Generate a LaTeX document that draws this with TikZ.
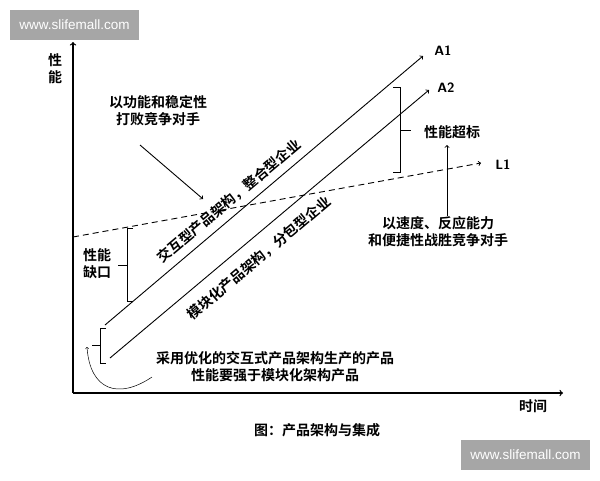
\documentclass[tikz,border=0pt]{standalone}
\usepackage{fontspec}
\setmainfont{Liberation Sans}
\newfontfamily\cjk{Noto Sans CJK SC}[BoldFont={Noto Sans CJK SC Bold}]
\usetikzlibrary{positioning}

\tikzset{
    lbl/.style={font=\cjk\bfseries\fontsize{14}{17}\selectfont, inner sep=1pt, align=center},
    tag/.style={font=\sffamily\bfseries\fontsize{13.5}{15}\selectfont, inner sep=1pt},
    wmark/.style={fill=black!35, text=white, minimum width=129pt, minimum height=30pt,
        font=\fontsize{13.5}{15}\selectfont},
    axis/.style={->, line width=1.3pt},
    trend/.style={->, line width=0.9pt},
    brace/.style={line width=0.9pt}
}

\begin{document}
\begin{tikzpicture}[x=1pt, y=-1pt]
    \useasboundingbox (0,0) rectangle (600,480);

    % Watermarks
    \node[wmark] (wm1) at (74.5,25) {www.slifemall.com};
    \node[wmark] (wm2) at (525.5,455) {www.slifemall.com};

    % Axes
    \coordinate (o) at (73,393);
    \coordinate (ytop) at (73,42);
    \coordinate (xend) at (563,393);
    \draw[axis] (o) -- (ytop);
    \draw[axis] (o) -- (xend);
    \node[lbl, align=center] (yl) at (55,69) {性\\能};
    \node[lbl] (xl) at (533,406) {时间};

    % Trend lines
    \coordinate (a1s) at (105,325);
    \coordinate (a1e) at (423,56);
    \coordinate (a2s) at (110,358);
    \coordinate (a2e) at (429,90);
    \coordinate (l1s) at (73,237);
    \coordinate (l1e) at (481,163);
    \draw[trend] (a1s) -- (a1e);
    \draw[trend] (a2s) -- (a2e);
    \draw[trend, dashed, dash pattern=on 6pt off 4pt] (l1s) -- (l1e);
    \node[tag] (A1) at (443,51) {A1};
    \node[tag] (A2) at (446,88) {A2};
    \node[tag] (L1) at (503,165) {L1};

    % Labels along the lines
    \node[lbl, rotate=40.2] (inter) at (229,201) {交互型产品架构，整合型企业};
    \node[lbl, rotate=40.2] (modul) at (259,258) {模块化产品架构，分包型企业};

    % Bracket: performance gap
    \draw[brace] (133,228) -- (127,228) -- (127,301) -- (133,301);
    \draw[brace] (127,265) -- (118,265);
    \node[lbl] (gap) at (97,264) {性能\\缺口};

    % Bracket: performance surplus
    \draw[brace] (393,87) -- (400,87) -- (400,172) -- (393,172);
    \draw[brace] (400,130) -- (411,130);
    \node[lbl] (over) at (452,132) {性能超标};

    % Bracket at the start
    \draw[brace] (106,328) -- (100,328) -- (100,363) -- (106,363);
    \draw[brace] (100,345) -- (92,345);

    % Comments with arrows
    \node[lbl] (stab) at (158,111) {以功能和稳定性\\打败竞争对手};
    \coordinate (stabe) at (203,199);
    \draw[trend] (140,145) -- (stabe);

    \node[lbl] (speed) at (438,232) {以速度、反应能力\\和便捷性战胜竞争对手};
    \coordinate (speede) at (447,145);
    \draw[trend] (speed.north -| speede) -- (speede);

    \node[lbl] (note) at (275,367) {采用优化的交互式产品架构生产的产品\\性能要强于模块化架构产品};
    \coordinate (hand) at (87,347);
    \draw[->, line width=0.5pt] (152,377) .. controls (118,400) and (90,390) .. (hand);

    % Caption
    \node[lbl] (cap) at (317,430) {图：产品架构与集成};
\end{tikzpicture}
\end{document}
